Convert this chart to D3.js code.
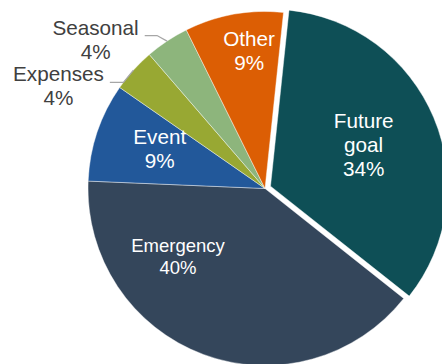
<!DOCTYPE html>
<html>
<head>
<meta charset="utf-8">
<script src="https://cdn.jsdelivr.net/npm/d3@7"></script>
<style>
  html, body { margin: 0; padding: 0; background: #fff; }
  svg { display: block; font-family: "Liberation Sans", Arial, sans-serif; }
</style>
</head>
<body>
<svg id="chart" width="442" height="364"></svg>
<script>
// Savings purpose shares (percent)
const categories = ["Future goal", "Emergency", "Event", "Expenses", "Seasonal", "Other"];
const shares = [34, 40, 9, 4, 4, 9];
const labelNames = [["Future", "goal"], ["Emergency"], ["Event"], ["Expenses"], ["Seasonal"], ["Other"]];
const sliceColors = ["#0E4F56", "#34465B", "#22589A", "#98A833", "#8DB57C", "#DC5E04"];

// Label placement: polar position of each text block (degrees clockwise from 12 o'clock, fraction of radius)
const labelAngle = [66, 232, 290.7, 296.4, 311.4, 353.4];
const labelRadius = [0.576, 0.624, 0.636, 1.303, 1.276, 0.783];
const labelOutside = [false, false, false, true, true, false];
const labelSize = [20.7, 18.5, 20.7, 20.7, 20.7, 20.7];
const explodeOffset = [6, 0, 0, 0, 0, 0];

const width = 442, height = 364;
const cx = 265, cy = 188.5, R = 177;
const startDeg = 6;
const rad = d => d * Math.PI / 180;

const svg = d3.select("#chart");
const g = svg.append("g").attr("transform", `translate(${cx},${cy})`);

const pie = d3.pie()
  .sort(null)
  .value(d => d)
  .startAngle(rad(startDeg))
  .endAngle(rad(startDeg) + 2 * Math.PI);

const arcs = pie(shares);
const arc = d3.arc().innerRadius(0).outerRadius(R);

const offsetOf = (d, i) => {
  const mid = (d.startAngle + d.endAngle) / 2;
  return [Math.sin(mid) * explodeOffset[i], -Math.cos(mid) * explodeOffset[i]];
};

// slices
g.selectAll("path.slice")
  .data(arcs)
  .join("path")
  .attr("class", "slice")
  .attr("d", arc)
  .attr("fill", (d, i) => sliceColors[i])
  .attr("stroke", "#ffffff")
  .attr("stroke-opacity", 0.7)
  .attr("stroke-width", 0.6)
  .attr("transform", (d, i) => {
    const [dx, dy] = offsetOf(d, i);
    return `translate(${dx},${dy})`;
  });

// labels
arcs.forEach((d, i) => {
  const [ox, oy] = offsetOf(d, i);
  const a = rad(labelAngle[i]);
  const bx = ox + Math.sin(a) * R * labelRadius[i];
  const by = oy - Math.cos(a) * R * labelRadius[i];
  const fs = labelSize[i];
  const lh = fs * 1.16;
  const capH = fs * 0.716;
  const lines = labelNames[i].concat([shares[i] + "%"]);
  const blockH = (lines.length - 1) * lh + capH;
  const firstBase = by - blockH / 2 + capH;

  const text = g.append("text")
    .attr("text-anchor", "middle")
    .attr("font-size", fs)
    .attr("fill", labelOutside[i] ? "#404040" : "#ffffff");

  const spans = lines.map((ln, k) =>
    text.append("tspan")
      .attr("x", bx)
      .attr("y", firstBase + k * lh)
      .text(ln)
  );

  if (labelOutside[i]) {
    const w = spans[0].node().getComputedTextLength();
    const mid = (d.startAngle + d.endAngle) / 2;
    const ex = Math.sin(mid) * R, ey = -Math.cos(mid) * R;
    const ly = firstBase + 1;
    const pts = [[bx + w / 2 + 6, ly], [ex - 10, ly], [ex, ey]];
    g.append("path")
      .attr("d", d3.line()(pts))
      .attr("fill", "none")
      .attr("stroke", "#A6A6A6")
      .attr("stroke-width", 1.3);
  }
});
</script>
</body>
</html>
